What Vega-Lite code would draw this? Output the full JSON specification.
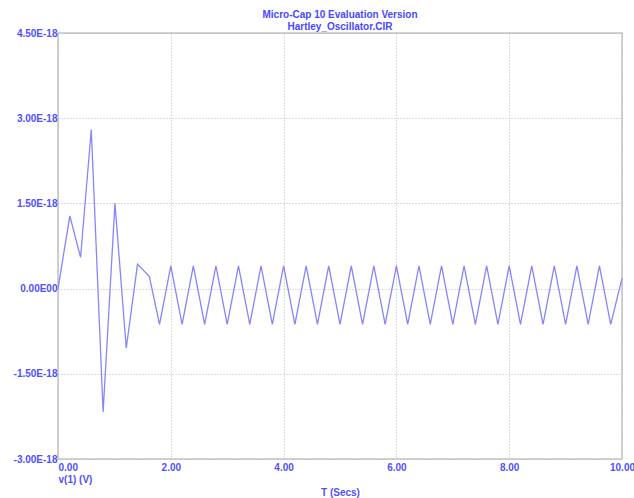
{
  "$schema": "https://vega.github.io/schema/vega-lite/v6.json",
  "width": 564,
  "height": 426,
  "autosize": "none",
  "padding": {"left": 58, "top": 33, "right": 12, "bottom": 39},
  "title": {
    "text": ["Micro-Cap 10 Evaluation Version", "Hartley_Oscillator.CIR"],
    "fontSize": 10,
    "fontWeight": "bold",
    "font": "Liberation Sans",
    "color": "#4848ff",
    "anchor": "middle",
    "offset": -4,
    "lineHeight": 12
  },
  "config": {
    "view": {"stroke": "#c4c4c4", "strokeWidth": 1.5},
    "axis": {
      "labelFont": "Liberation Sans",
      "labelFontSize": 10,
      "labelFontWeight": "bold",
      "labelColor": "#5050ff",
      "titleFont": "Liberation Sans",
      "titleFontSize": 10,
      "titleFontWeight": "bold",
      "titleColor": "#5050ff",
      "ticks": false,
      "domain": false,
      "gridColor": "#b8b8b8",
      "gridDash": [1, 2],
      "gridWidth": 1
    }
  },
  "data": {
    "values": [
      {"t": 0.0, "v": 0},
      {"t": 0.21, "v": 1.28e-18},
      {"t": 0.40, "v": 0.55e-18},
      {"t": 0.59, "v": 2.80e-18},
      {"t": 0.80, "v": -2.17e-18},
      {"t": 1.01, "v": 1.50e-18},
      {"t": 1.21, "v": -1.05e-18},
      {"t": 1.41, "v": 0.43e-18},
      {"t": 1.62, "v": 0.21e-18},
      {"t": 1.80, "v": -0.63e-18},
      {"t": 2.00, "v": 0.40e-18},
      {"t": 2.20, "v": -0.63e-18},
      {"t": 2.40, "v": 0.40e-18},
      {"t": 2.60, "v": -0.63e-18},
      {"t": 2.80, "v": 0.40e-18},
      {"t": 3.00, "v": -0.63e-18},
      {"t": 3.20, "v": 0.40e-18},
      {"t": 3.40, "v": -0.63e-18},
      {"t": 3.60, "v": 0.40e-18},
      {"t": 3.80, "v": -0.63e-18},
      {"t": 4.00, "v": 0.40e-18},
      {"t": 4.20, "v": -0.63e-18},
      {"t": 4.40, "v": 0.40e-18},
      {"t": 4.60, "v": -0.63e-18},
      {"t": 4.80, "v": 0.40e-18},
      {"t": 5.00, "v": -0.63e-18},
      {"t": 5.20, "v": 0.40e-18},
      {"t": 5.40, "v": -0.63e-18},
      {"t": 5.60, "v": 0.40e-18},
      {"t": 5.80, "v": -0.63e-18},
      {"t": 6.00, "v": 0.40e-18},
      {"t": 6.20, "v": -0.63e-18},
      {"t": 6.40, "v": 0.40e-18},
      {"t": 6.60, "v": -0.63e-18},
      {"t": 6.80, "v": 0.40e-18},
      {"t": 7.00, "v": -0.63e-18},
      {"t": 7.20, "v": 0.40e-18},
      {"t": 7.40, "v": -0.63e-18},
      {"t": 7.60, "v": 0.40e-18},
      {"t": 7.80, "v": -0.63e-18},
      {"t": 8.00, "v": 0.40e-18},
      {"t": 8.20, "v": -0.63e-18},
      {"t": 8.40, "v": 0.40e-18},
      {"t": 8.60, "v": -0.63e-18},
      {"t": 8.80, "v": 0.40e-18},
      {"t": 9.00, "v": -0.63e-18},
      {"t": 9.20, "v": 0.40e-18},
      {"t": 9.40, "v": -0.63e-18},
      {"t": 9.60, "v": 0.40e-18},
      {"t": 9.80, "v": -0.63e-18},
      {"t": 10.0, "v": 0.18e-18}
    ]
  },
  "mark": {"type": "line", "color": "#8585ff", "strokeWidth": 1.3},
  "encoding": {
    "x": {
      "field": "t",
      "type": "quantitative",
      "scale": {"domain": [0, 10], "nice": false, "zero": false},
      "axis": {
        "values": [0, 2, 4, 6, 8, 10],
        "format": ".2f",
        "labelPadding": 3,
        "labelAlign": {"condition": {"test": "datum.value == 0", "value": "left"}, "value": "center"},
        "labelBound": false,
        "labelOverlap": false,
        "title": "T (Secs)",
        "titlePadding": 15
      }
    },
    "y": {
      "field": "v",
      "type": "quantitative",
      "scale": {"domain": [-3e-18, 4.5e-18], "nice": false, "zero": false},
      "axis": {
        "values": [-3e-18, -1.5e-18, 0, 1.5e-18, 3e-18, 4.5e-18],
        "labelExpr": "datum.value == 0 ? '0.00E00' : (datum.value < 0 ? '-' : '') + format(abs(datum.value) * 1e18, '.2f') + 'E-18'",
        "labelPadding": 1,
        "labelOverlap": false,
        "labelBound": false,
        "title": "v(1) (V)",
        "titleAngle": 0,
        "titleX": 0,
        "titleY": 446,
        "titleAlign": "left",
        "titleBaseline": "middle"
      }
    }
  }
}
